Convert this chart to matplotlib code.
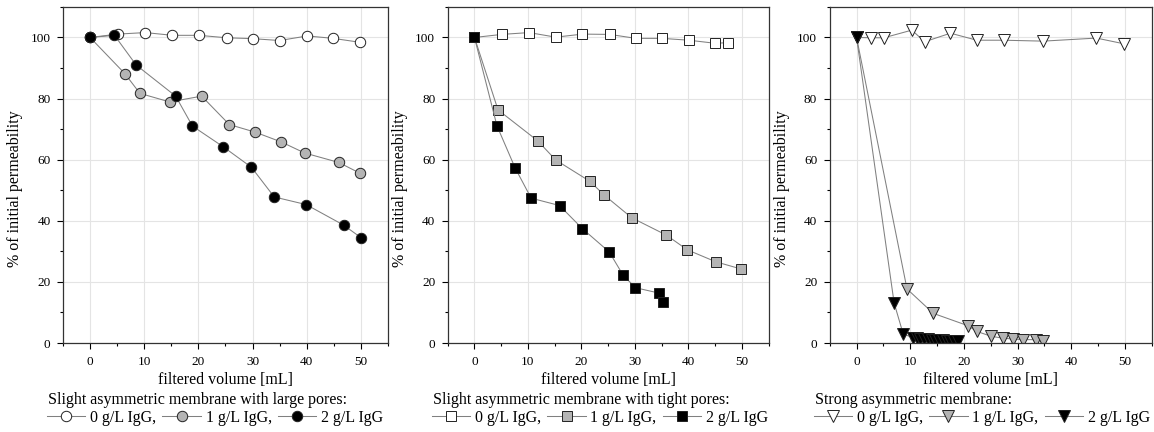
import matplotlib.pyplot as plt
from matplotlib.ticker import MultipleLocator

plt.rcParams['font.family'] = ['Liberation Serif', 'DejaVu Serif']

# panel 1: slight asymmetric membrane, large pores (circles)
p1_x0 = [0, 5.1, 10.2, 15.2, 20.1, 25.2, 30.1, 35.0, 40.1, 44.9, 49.9]
p1_y0 = [100, 101.1, 101.6, 100.7, 100.7, 99.9, 99.6, 99.0, 100.5, 99.7, 98.4]
p1_x1 = [0, 6.4, 9.2, 14.7, 20.6, 25.7, 30.5, 35.3, 39.6, 45.9, 49.8]
p1_y1 = [100, 88.2, 81.7, 78.9, 80.8, 71.5, 69.0, 65.8, 62.2, 59.1, 55.6]
p1_x2 = [0, 4.5, 8.5, 15.8, 18.9, 24.6, 29.8, 34.0, 39.9, 46.8, 50.0]
p1_y2 = [100, 100.7, 91.0, 80.8, 71.0, 64.2, 57.5, 47.8, 45.3, 38.6, 34.5]

# panel 2: slight asymmetric membrane, tight pores (squares)
p2_x0 = [0, 5.1, 10.2, 15.2, 20.2, 25.3, 30.2, 35.1, 40.1, 45.0, 47.5]
p2_y0 = [100, 101.0, 101.6, 100.1, 101.1, 101.0, 99.7, 99.7, 99.1, 98.1, 98.3]
p2_x1 = [0, 4.4, 11.8, 15.2, 21.6, 24.2, 29.4, 35.9, 39.8, 45.1, 49.9]
p2_y1 = [100, 76.3, 66.2, 59.9, 52.9, 48.5, 41.0, 35.3, 30.5, 26.6, 24.2]
p2_x2 = [0, 4.2, 7.6, 10.6, 15.9, 20.2, 25.2, 27.8, 30.1, 34.6, 35.3]
p2_y2 = [100, 71.1, 57.3, 47.4, 45.0, 37.4, 29.8, 22.2, 18.1, 16.3, 13.3]

# panel 3: strong asymmetric membrane (down triangles)
p3_x0 = [0, 2.7, 5.1, 10.3, 12.7, 17.5, 22.4, 27.4, 34.8, 44.7, 49.9]
p3_y0 = [100, 99.9, 99.9, 102.4, 98.6, 101.4, 99.1, 99.1, 98.8, 99.8, 97.9]
p3_x1 = [0, 9.4, 14.3, 20.7, 22.4, 25.1, 27.2, 29.1, 31.1, 33.4, 34.8]
p3_y1 = [100, 17.7, 9.7, 5.7, 3.8, 2.2, 1.6, 1.3, 1.1, 1.1, 0.8]
p3_x2 = [0, 7.0, 8.7, 10.5, 11.2, 11.9, 12.6, 13.3, 14.0, 14.7, 15.4,
         16.1, 16.8, 17.5, 18.2, 18.9]
p3_y2 = [100, 13.1, 2.9, 1.8, 1.6, 1.4, 1.3, 1.2, 1.1, 1.0, 0.9,
         0.9, 0.8, 0.8, 0.7, 0.7]

labels = ['0 g/L IgG,', '1 g/L IgG,', '2 g/L IgG']
fills = ['white', '#b4b4b4', 'black']
titles = ['Slight asymmetric membrane with large pores:',
          'Slight asymmetric membrane with tight pores:',
          'Strong asymmetric membrane:']

panels = [
    ('o', [(p1_x0, p1_y0), (p1_x1, p1_y1), (p1_x2, p1_y2)]),
    ('s', [(p2_x0, p2_y0), (p2_x1, p2_y1), (p2_x2, p2_y2)]),
    ('v', [(p3_x0, p3_y0), (p3_x1, p3_y1), (p3_x2, p3_y2)]),
]

fig = plt.figure(figsize=(11.54, 4.32), dpi=100)
lefts = [0.0546, 0.388, 0.719]
widths = [0.2816, 0.278, 0.279]

for i, (marker, series) in enumerate(panels):
    ax = fig.add_axes([lefts[i], 0.206, widths[i], 0.778])
    ms = 8.5 if marker == 'v' else 7.5
    handles = []
    for (x, y), fc, lab in zip(series, fills, labels):
        h, = ax.plot(x, y, '-', color='#808080', lw=0.75, marker=marker,
                     ms=ms, mfc=fc, mec='#222222', mew=0.7, label=lab)
        handles.append(h)

    ax.set_xlim(-5, 55)
    ax.set_ylim(0, 110)
    ax.xaxis.set_major_locator(MultipleLocator(10))
    ax.xaxis.set_minor_locator(MultipleLocator(5))
    ax.yaxis.set_major_locator(MultipleLocator(20))
    ax.yaxis.set_minor_locator(MultipleLocator(10))
    ax.tick_params(which='both', direction='out', labelsize=9.5, width=0.8)
    ax.tick_params(which='major', length=4, pad=5)
    ax.tick_params(which='minor', length=2.5)
    ax.grid(True, which='major', color='#e4e4e4', lw=0.8)
    ax.set_axisbelow(True)
    for sp in ax.spines.values():
        sp.set_linewidth(0.9)
        sp.set_color('#333333')

    ax.set_xlabel('filtered volume [mL]', fontsize=11.5, labelpad=3)
    ax.set_ylabel('% of initial permeability', fontsize=11.5)
    ax.yaxis.set_label_coords(-0.124, 0.46)

    ax.text(-0.045, -0.170, titles[i], transform=ax.transAxes,
            fontsize=11.5, ha='left', va='center')
    ax.legend(handles=handles, loc='center left',
              bbox_to_anchor=(-0.05, -0.222), ncol=3, frameon=False,
              fontsize=11.5, handlelength=2.4, handletextpad=0.3,
              columnspacing=0.4, borderpad=0, borderaxespad=0)

fig.savefig('out.png', dpi=100)
